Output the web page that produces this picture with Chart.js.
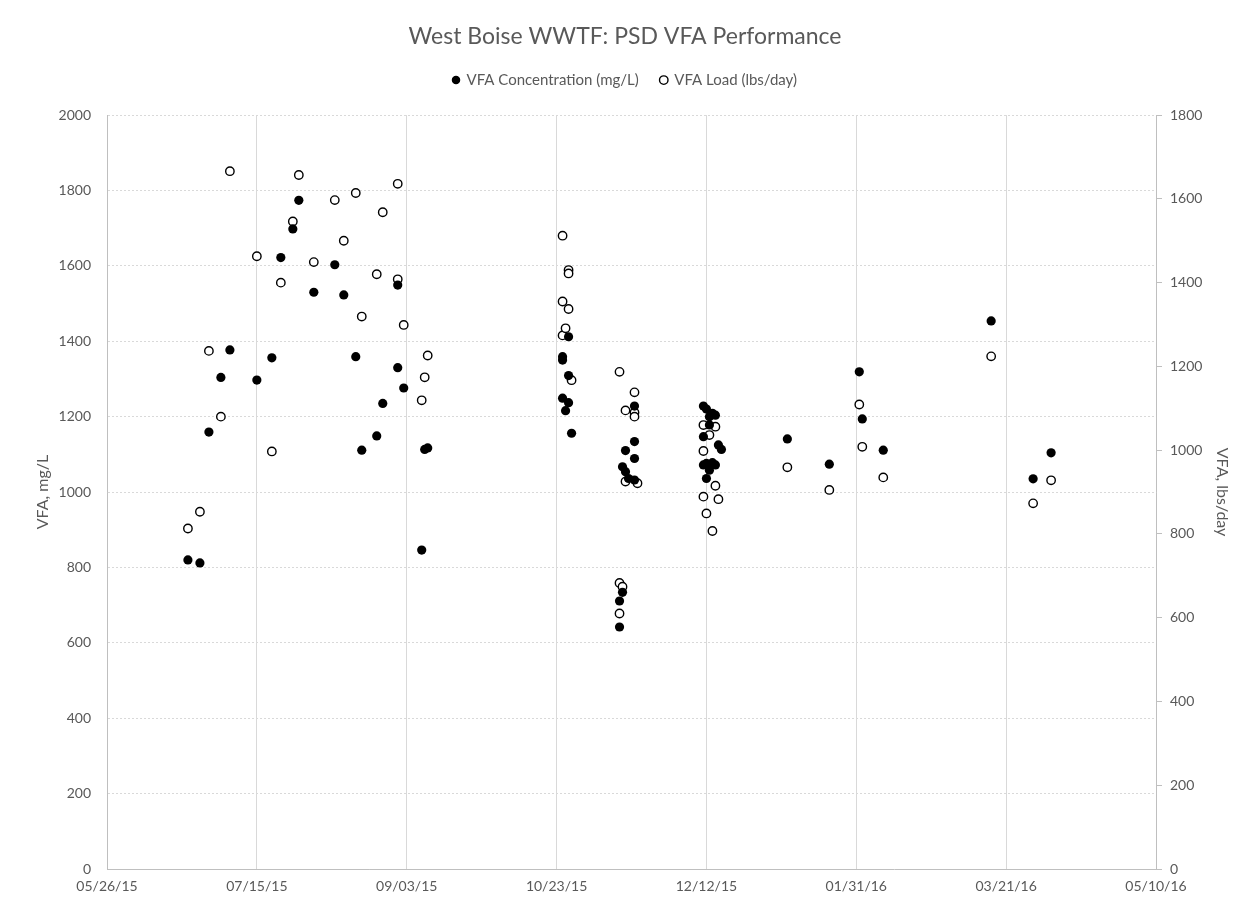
<!DOCTYPE html>
<html>
<head>
<meta charset="utf-8">
<script src="https://cdn.jsdelivr.net/npm/chart.js@4.4.0/dist/chart.umd.min.js"></script>
<style>
  body { margin: 0; background: #fff; }
</style>
</head>
<body>
<canvas id="vfaChart" width="1250" height="907"></canvas>
<script>
// sample dates + values
const concDates = [
  "2015-06-22", "2015-06-26", "2015-06-29", "2015-07-03", "2015-07-06", "2015-07-15",
  "2015-07-20", "2015-07-23", "2015-07-27", "2015-07-29", "2015-08-03", "2015-08-10",
  "2015-08-13", "2015-08-17", "2015-08-19", "2015-08-24", "2015-08-26", "2015-08-31",
  "2015-08-31", "2015-09-02", "2015-09-08", "2015-09-09", "2015-09-10",
  "2015-10-25", "2015-10-25", "2015-10-25", "2015-10-26", "2015-10-27", "2015-10-27",
  "2015-10-27", "2015-10-28",
  "2015-11-18", "2015-11-18", "2015-11-15", "2015-11-18", "2015-11-14", "2015-11-15",
  "2015-11-16", "2015-11-18", "2015-11-14", "2015-11-13", "2015-11-13",
  "2015-12-11", "2015-12-12", "2015-12-14", "2015-12-15", "2015-12-13", "2015-12-13",
  "2015-12-11", "2015-12-16", "2015-12-17", "2015-12-11", "2015-12-12", "2015-12-14",
  "2015-12-15", "2015-12-13", "2015-12-12",
  "2016-01-08", "2016-01-22", "2016-02-01", "2016-02-02", "2016-02-09", "2016-03-16",
  "2016-03-30", "2016-04-05"
];
const concValues = [
  820, 812, 1159, 1304, 1377, 1297,
  1356, 1622, 1698, 1774, 1530, 1603,
  1523, 1359, 1111, 1149, 1235, 1549,
  1330, 1276, 846, 1113, 1117,
  1359, 1350, 1249, 1216, 1412, 1309,
  1237, 1156,
  1228, 1134, 1110, 1089, 1067, 1054,
  1036, 1032, 734, 711, 642,
  1228, 1220, 1209, 1204, 1200, 1178,
  1147, 1125, 1113, 1072, 1076, 1078,
  1072, 1058, 1036,
  1141, 1074, 1319, 1194, 1111, 1454,
  1035, 1104
];

const loadDates = [
  "2015-06-22", "2015-06-26", "2015-06-29", "2015-07-03", "2015-07-06", "2015-07-15",
  "2015-07-20", "2015-07-23", "2015-07-27", "2015-07-29", "2015-08-03", "2015-08-10",
  "2015-08-13", "2015-08-17", "2015-08-19", "2015-08-24", "2015-08-26", "2015-08-31",
  "2015-08-31", "2015-09-02", "2015-09-08", "2015-09-09", "2015-09-10",
  "2015-10-25", "2015-10-25", "2015-10-25", "2015-10-26", "2015-10-27", "2015-10-27",
  "2015-10-27", "2015-10-28",
  "2015-11-13", "2015-11-18", "2015-11-15", "2015-11-18", "2015-11-18", "2015-11-15",
  "2015-11-19", "2015-11-13", "2015-11-14", "2015-11-13",
  "2015-12-11", "2015-12-15", "2015-12-13", "2015-12-11", "2015-12-15", "2015-12-11",
  "2015-12-16", "2015-12-12", "2015-12-14",
  "2016-01-08", "2016-01-22", "2016-02-01", "2016-02-02", "2016-02-09", "2016-03-16",
  "2016-03-30", "2016-04-05"
];
const loadValues = [
  813, 853, 1237, 1080, 1666, 1463,
  997, 1400, 1546, 1657, 1449, 1597,
  1500, 1614, 1319, 1420, 1568, 1636,
  1408, 1299, 1119, 1174, 1226,
  1512, 1355, 1274, 1291, 1430, 1422,
  1337, 1167,
  1187, 1138, 1095, 1090, 1080, 925,
  921, 683, 674, 610,
  1060, 1056, 1036, 998, 915, 889,
  883, 849, 807,
  959, 905, 1109, 1008, 935, 1224,
  873, 928
];

const startDate = "2015-05-26";
const endDate = "2016-05-10";
const dayStep = 50;
const concTicks = { min: 0, max: 2000, step: 200 };
const loadTicks = { min: 0, max: 1800, step: 200 };

const DAY = 86400000;
function toDay(s) {
  const [y, m, d] = s.split("-").map(Number);
  const [y0, m0, d0] = startDate.split("-").map(Number);
  return (Date.UTC(y, m - 1, d) - Date.UTC(y0, m0 - 1, d0)) / DAY;
}
function dayLabel(n) {
  const [y0, m0, d0] = startDate.split("-").map(Number);
  const dt = new Date(Date.UTC(y0, m0 - 1, d0) + n * DAY);
  const mm = String(dt.getUTCMonth() + 1).padStart(2, "0");
  const dd = String(dt.getUTCDate()).padStart(2, "0");
  const yy = String(dt.getUTCFullYear() % 100).padStart(2, "0");
  return mm + "/" + dd + "/" + yy;
}

const grey = "#595959";
Chart.defaults.font.family = "Lato, 'Open Sans', sans-serif";
Chart.defaults.color = grey;

const ctx = document.getElementById("vfaChart");

new Chart(ctx, {
  type: "scatter",
  data: {
    datasets: [
      {
        label: "VFA Concentration (mg/L)",
        data: concDates.map((d, i) => ({ x: toDay(d), y: concValues[i] })),
        yAxisID: "y",
        backgroundColor: "#000000",
        borderColor: "#000000",
        borderWidth: 0,
        pointRadius: 4.6,
        pointHoverRadius: 4.6,
      },
      {
        label: "VFA Load (lbs/day)",
        data: loadDates.map((d, i) => ({ x: toDay(d), y: loadValues[i] })),
        yAxisID: "y2",
        backgroundColor: "#ffffff",
        borderColor: "#000000",
        borderWidth: 1.4,
        pointRadius: 4.2,
        pointHoverRadius: 4.2,
      },
    ],
  },
  options: {
    responsive: false,
    animation: false,
    layout: { padding: 0 },
    plugins: {
      title: {
        display: true,
        text: "West Boise WWTF: PSD VFA Performance",
        color: grey,
        font: { size: 23, weight: "normal" },
        padding: { top: 23, bottom: 0 },
      },
      legend: {
        display: true,
        position: "top",
        labels: {
          usePointStyle: true,
          pointStyle: "circle",
          boxWidth: 6,
          boxHeight: 6,
          padding: 22,
          color: grey,
          font: { size: 15 },
        },
      },
      tooltip: { enabled: false },
    },
    scales: {
      x: {
        type: "linear",
        min: 0,
        max: toDay(endDate),
        afterFit: (s) => { s.height = 38; },
        ticks: {
          stepSize: dayStep,
          padding: 9,
          maxRotation: 0,
          color: grey,
          font: { size: 14 },
          callback: (v) => dayLabel(v),
        },
        grid: { color: "#d9d9d9", drawTicks: false },
        border: { color: "#bfbfbf" },
      },
      y: {
        position: "left",
        min: concTicks.min,
        max: concTicks.max,
        afterFit: (s) => { s.width = 107; },
        ticks: {
          stepSize: concTicks.step,
          padding: 16,
          color: grey,
          font: { size: 14 },
          callback: (v) => String(v),
        },
        grid: { color: "#d9d9d9", drawTicks: false },
        border: { color: "#bfbfbf", dash: [2, 2] },
        title: {
          display: true,
          text: "VFA, mg/L",
          color: grey,
          font: { size: 16 },
          padding: { top: 33, bottom: 0 },
        },
      },
      y2: {
        position: "right",
        min: loadTicks.min,
        max: loadTicks.max,
        afterFit: (s) => { s.width = 94; },
        ticks: {
          stepSize: loadTicks.step,
          padding: 8,
          color: grey,
          font: { size: 14 },
          callback: (v) => String(v),
        },
        grid: { drawOnChartArea: false, color: "#bfbfbf", tickLength: 6 },
        border: { color: "#bfbfbf" },
        title: {
          display: true,
          text: "VFA, lbs/day",
          color: grey,
          font: { size: 16 },
          padding: { top: 18, bottom: 0 },
        },
      },
    },
  },
  plugins: [
    {
      // push the plot area down below the legend, like the excel chart
      id: "legendGap",
      beforeInit(chart) {
        const origFit = chart.legend.fit;
        chart.legend.fit = function () {
          origFit.call(this);
          this.height += 17.5;
        };
      },
    },
  ],
});
</script>
</body>
</html>
